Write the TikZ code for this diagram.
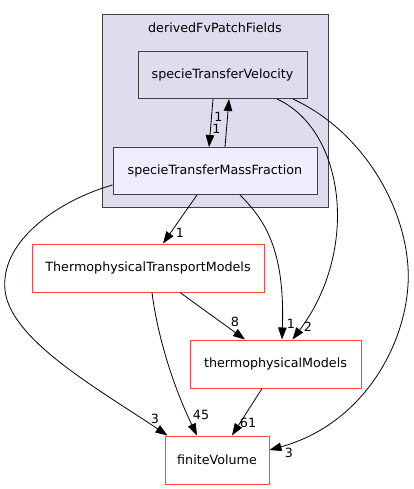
\documentclass[tikz,border=0pt]{standalone}
\usepackage{fontspec}
\setmainfont{DejaVu Sans}
\usepackage{xcolor}
\usetikzlibrary{arrows.meta}

\definecolor{clusterfill}{HTML}{DDDDEE}
\definecolor{focusfill}{HTML}{EEEEFF}
\definecolor{boxline}{HTML}{404040}
\definecolor{extline}{HTML}{FF4444}

\begin{document}
\begin{tikzpicture}[
    x=1pt, y=-1pt,
    font=\fontsize{12.7}{15}\selectfont,
    >={Triangle[length=12pt, width=8.5pt]},
    dirbox/.style  ={draw=boxline, line width=1pt, inner sep=0pt, minimum height=47pt},
    extbox/.style  ={draw=extline, line width=1pt, fill=white, inner sep=0pt,
                     minimum height=48pt},
    dep/.style     ={->, line width=0.8pt},
    cnt/.style     ={inner sep=0pt}
]
\useasboundingbox (0,0) rectangle (414,489);

% Cluster: derivedFvPatchFields
\draw[fill=clusterfill, draw=boxline, line width=1pt] (102,15) rectangle (328,207);
\node (clab) at (215,28) {derivedFvPatchFields};

% Directories inside the cluster
\node[dirbox, fill=clusterfill, minimum width=169pt] (stv)  at (222.5,75)
    {specieTransferVelocity};
\node[dirbox, fill=focusfill, minimum width=204pt]   (stmf) at (215,171)
    {specieTransferMassFraction};

% Outside directories
\node[extbox, minimum width=232pt] (ttm) at (148,268) {ThermophysicalTransportModels};
\node[extbox, minimum width=171pt] (tpm) at (275.5,364) {thermophysicalModels};
\node[extbox, minimum width=104pt] (fv)  at (217,460) {finiteVolume};

% --- Dependencies ---
\draw[dep] ([xshift=-9.5pt]stv.south) -- ([xshift=-6pt]stmf.north);
\draw[dep] ([xshift=10pt]stmf.north) -- ([xshift=6.5pt]stv.south);
\node[cnt] at (218.5,117) {1};
\node[cnt] at (216.5,129) {1};

\draw[dep] ([xshift=-18pt]stmf.south) -- ([xshift=15pt]ttm.north);
\node[cnt] at (180,233) {1};
\draw[dep] ([xshift=25pt]stmf.south) .. controls (265,220) and (285,250) .. ([xshift=6.5pt]tpm.north);
\node[cnt] at (291,324) {1};

\draw[dep] ([xshift=54.5pt]stv.south) .. controls (345,130) and (360,250) .. ([xshift=17pt]tpm.north);
\node[cnt] at (308,327) {2};

\draw[dep] ([xshift=70.5pt]stv.south) .. controls (370,135) and (412,220) .. (408,285)
    .. controls (404,350) and (360,425) .. ([yshift=10pt]fv.east);
\node[cnt] at (289,453) {3};

\draw[dep] ([yshift=-14pt]stmf.west) .. controls (60,200) and (0,240) .. (5,290)
    .. controls (10,340) and (100,390) .. ([xshift=3pt]fv.north west);
\node[cnt] at (155,419) {3};

\draw[dep] ([xshift=32pt]ttm.south) -- ([xshift=-30.5pt]tpm.north);
\node[cnt] at (235,322) {8};
\draw[dep] ([xshift=4pt]ttm.south) .. controls (158,340) and (175,390) .. ([xshift=-20pt]fv.north);
\node[cnt] at (201,415) {45};

\draw[dep] ([xshift=-13.5pt]tpm.south) -- ([xshift=15pt]fv.north);
\node[cnt] at (248,423) {61};

\end{tikzpicture}
\end{document}
